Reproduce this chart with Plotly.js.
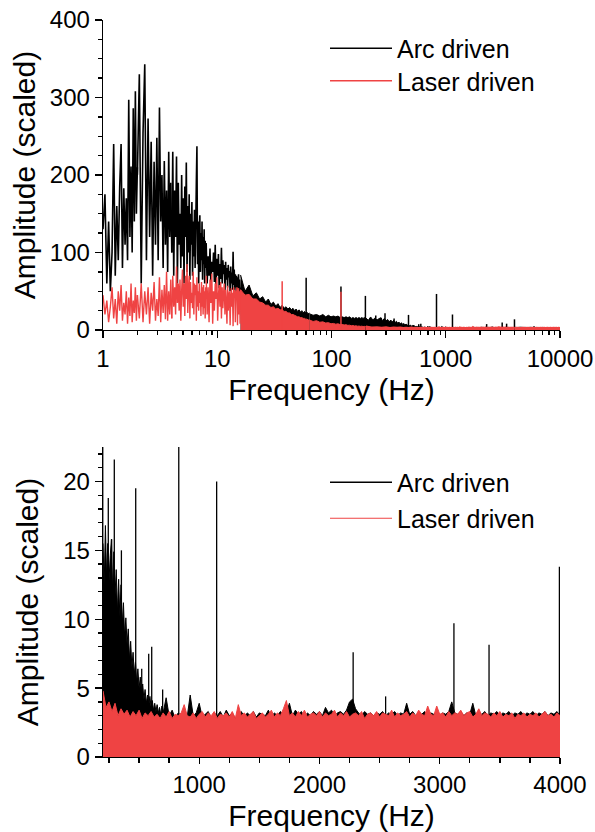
<!DOCTYPE html>
<html><head><meta charset="utf-8">
<script src="https://cdn.plot.ly/plotly-3.0.1.min.js"></script>
<style>html,body{margin:0;padding:0;background:#fff}#chart{width:595px;height:832px}</style>
</head><body><div id="chart"></div>
<script>
// ---------------- data ----------------
const seriesNames = ['Arc driven', 'Laser driven'];
const freqTicks = [1, 10, 100, 1000, 10000];
const freqTickText = ['1', '10', '100', '1000', '10000'];

// low-frequency segments of the spectra (start Hz, step Hz)
const lowSegStart = [1, 2, 4, 8, 16, 64];
const lowSegStep = [0.04, 0.08, 0.08, 0.16, 1.5, 5];

const arcLow1 = [130,175,60,140,50,100,240,70,160,90,185,240,80,183,110,170,90,297,120,211,100,286,140,308,150,210];
const arcLow2 = [200,330,60,254,343,90,273,120,243,70,217,110,248,90,287,140,200,80,218,110,180,75,230,120,190,100];
const arcLow3 = [100,230,70,180,120,224,60,190,110,150,80,200,95,170,60,185,120,216,75,160,
  100,175,65,150,110,165,70,140,95,155,80,130,190,237,85,140,60,130,148,75,
  125,90,140,65,120,85,130,60,115,80,112];
const arcLow4 = [112,60,95,70,105,55,88,75,100,62,110,58,92,70,98,54,85,66,106,60,
  90,72,84,50,88,65,80,55,84,68,76,50,82,60,74,52,101,58,78,48,
  72,55,70,45,68,52,72,47,65,50,55];
const arcLow5 = [71,50,58,44,48,40,43,36,40,33,36,31,34,29,32,28,30,27,29,26,28,25,27,24,26,23,25,22,24,22,23,21,22];
const arcLow6 = [21,19,20,18,20,17,19,17,18,17,18,16,17,16,17,16,17,15,16,15,16,15,16,15,16,15,16,15];

const laserLow1 = [45,20,38,10,30,55,15,40,8,50,25,58,12,35,20,50,8,42,18,60,10,38,22,55,12,45];
const laserLow2 = [45,15,60,10,50,20,55,8,48,25,62,12,40,18,68,10,52,22,58,14,75,12,50,20,65,15];
const laserLow3 = [15,70,30,55,20,82,35,60,25,65,12,50,78,30,60,18,70,40,85,22,
  55,70,15,62,35,48,28,75,20,60,45,58,12,68,30,50,25,60,35,48,
  18,62,30,55,20,58,28,50,15,55,40];
const laserLow4 = [70,20,55,10,65,35,73,8,50,25,60,40,68,12,45,58,30,62,15,55,
  28,48,60,20,52,35,8,57,25,45,50,6,40,54,30,48,5,55,45,52,
  10,50,42,55,6,48,54,20,50,8,52];
const laserLow5 = [52,45,46,40,40,36,35,32,32,29,30,27,28,26,26,24,24,22,22,20,20,19,18,17,17,16,16,15,15,14,14,13,13];
const laserLow6 = [13,11,12,10,10.5,9,9.5,8,8.5,7.5,8,7,7.2,6.5,6.8,6,6.2,5.5,5.8,5.2,5.4,4.9,5.1,4.7,4.9,4.5,4.7,4.4];

// arc driven, 200-700 Hz (step 10 Hz)
const arcMidStart = 200, arcMidStep = 10;
const arcMid = [15.5,12.5,16.8,13,15.5,12.8,14.6,15.8,12,14.9,
  11.8,13.6,10.5,12.9,10.2,12.5,9.6,11.2,8.7,10.1,
  8.2,9.3,7.1,8.4,6.5,7.6,6.0,6.9,5.4,6.4,
  5.0,5.8,4.6,5.3,4.2,4.9,3.9,4.5,3.7,4.4,
  3.6,4.1,3.4,3.9,3.3,3.8,3.2,3.6,3.1,3.7,3.2];

// arc driven, 700-4000 Hz (step 25 Hz)
const arcHighStart = 700, arcHighStep = 25;
const arcHigh = [3.2,
  4.3,3.0,3.4,2.8,3.2,3.0,3.3,2.9,4.5,3.0,
  3.2,3.9,2.9,3.1,3.3,2.8,3.2,3.0,3.3,2.9,
  3.4,3.0,3.2,2.8,3.1,3.3,2.9,3.2,3.0,3.3,
  2.9,3.2,3.1,3.0,3.4,2.9,3.2,3.0,3.3,3.1,
  3.2,3.9,3.0,3.4,3.1,3.3,2.9,3.2,3.0,3.3,
  3.1,3.3,3.0,3.6,3.2,3.4,3.0,3.2,3.3,3.1,
  3.4,4.0,4.2,3.5,3.2,3.0,3.3,3.1,3.2,3.0,
  3.2,3.1,3.3,3.0,3.2,3.1,3.3,3.0,3.2,3.1,
  3.9,3.1,3.3,3.0,3.2,3.1,3.3,3.0,3.2,3.1,
  3.3,3.0,3.2,3.1,3.3,4.0,3.2,3.1,3.3,3.0,
  3.2,3.1,3.9,3.0,3.2,3.1,3.3,3.0,3.2,3.1,
  3.3,3.0,3.2,3.1,3.3,3.0,3.2,3.1,3.3,3.0,
  3.2,3.1,3.3,3.0,3.2,3.1,3.3,3.0,3.2,3.1,
  3.3,3.0];

// laser driven, 200-4000 Hz (step 25 Hz)
const laserHighStart = 200, laserHighStep = 25;
const laserHigh = [4.8,3.6,4.0,3.3,3.9,3.0,3.5,3.1,3.4,2.9,
  3.3,3.0,3.4,2.8,3.2,3.0,3.3,2.9,3.1,2.8,
  3.2,2.9,3.3,2.8,3.1,3.0,3.2,3.8,3.0,2.9,
  3.2,2.8,3.1,3.3,2.9,3.2,3.0,3.3,2.8,3.1,
  3.0,3.2,2.9,3.3,2.8,3.8,3.0,3.2,2.9,3.1,
  3.3,2.8,3.0,3.2,2.9,3.1,3.4,2.9,3.2,3.0,
  3.5,4.1,3.0,3.2,2.9,3.3,3.0,3.4,2.9,3.1,
  3.2,3.0,3.3,2.9,3.2,3.0,3.1,3.4,2.9,3.2,
  3.0,3.3,2.9,3.1,3.2,3.0,3.3,2.8,3.1,3.2,
  3.0,3.3,2.9,3.2,3.1,3.0,3.4,2.9,3.2,3.0,
  3.1,3.3,2.9,3.2,3.0,3.4,3.1,3.0,3.7,3.1,
  3.0,3.7,3.1,3.2,2.9,3.3,3.0,3.2,3.1,3.4,
  3.0,3.2,3.3,2.9,3.1,3.5,3.0,3.2,3.1,2.9,
  3.2,3.0,3.3,2.9,3.1,3.0,3.2,2.8,3.1,3.0,
  3.2,2.9,3.1,3.0,3.2,2.9,3.1,3.3,3.0,3.1,
  2.9,3.2,3.0];

// 4000-10000 Hz (step 250 Hz)
const tailStart = 4000, tailStep = 250;
const arcTail = [3.5,3.2,3.6,3.3,3.4,3.1,3.5,3.2,3.4,3.0,3.3,3.1,3.4,3.0,3.2,3.1,3.3,3.0,3.2,3.1,3.3,3.0,3.2,3.1,3.2];
const laserTail = [3.0,3.2,2.9,3.1,3.0,3.3,2.9,3.1,3.0,3.2,2.8,3.1,3.0,3.2,2.9,3.1,3.0,3.1,2.9,3.2,3.0,3.1,2.9,3.1,3.0];

// narrow spectral lines
const arcSpikeFreq = [60,121,198,244,272,294,353,472,522,580,605,696,830,1145,2280,2550,3118,3410,3995,5920];
const arcSpikeAmp  = [67.5,56,44,18.8,15.8,21.6,15.0,19.5,6.4,7.5,8.0,4.9,46.5,20.0,7.6,4.4,9.7,8.15,13.8,5.0];
const laserSpikeFreq = [37,121];
const laserSpikeAmp  = [63,49.5];

// ---------------- styles ----------------
const FONT = 'Liberation Sans, Arial, sans-serif';
const BLACK = '#000000', RED = '#ef4343';

function seg(y, x0, dx, color, fill, xa, ya, width) {
  return {type:'scatter', mode:'lines', y:y, x0:x0, dx:dx, xaxis:xa, yaxis:ya,
    line:{color:color, width:width, simplify:false},
    fill: fill ? 'tozeroy' : 'none', fillcolor: color,
    showlegend:false, hoverinfo:'skip'};
}
function spikes(freq, amp, color, xa, ya, width) {
  const x = [], y = [];
  freq.forEach((f, i) => { x.push(f, f, null); y.push(0, amp[i], null); });
  return {type:'scatter', mode:'lines', x:x, y:y, xaxis:xa, yaxis:ya,
    line:{color:color, width:width}, showlegend:false, hoverinfo:'skip'};
}
function legendOf(t, name, legend) {
  t.name = name; t.legend = legend; t.showlegend = true; return t;
}

const arcLows = [arcLow1, arcLow2, arcLow3, arcLow4, arcLow5, arcLow6];
const laserLows = [laserLow1, laserLow2, laserLow3, laserLow4, laserLow5, laserLow6];

const traces = [];
// ---- top plot (log frequency) ----
arcLows.forEach((y, i) => {
  const t = seg(y, lowSegStart[i], lowSegStep[i], BLACK, i >= 4, 'x', 'y', i >= 4 ? 1 : 1.6);
  if (i === 0) legendOf(t, seriesNames[0], 'legend');
  traces.push(t);
});
traces.push(seg(arcMid, arcMidStart, arcMidStep, BLACK, true, 'x', 'y', 1));
traces.push(seg(arcHigh, arcHighStart, arcHighStep, BLACK, true, 'x', 'y', 1));
traces.push(seg(arcTail, tailStart, tailStep, BLACK, true, 'x', 'y', 1));
traces.push(spikes(arcSpikeFreq, arcSpikeAmp, BLACK, 'x', 'y', 1.5));
laserLows.forEach((y, i) => {
  const t = seg(y, lowSegStart[i], lowSegStep[i], RED, i >= 4, 'x', 'y', i >= 4 ? 1 : 1.4);
  if (i === 0) legendOf(t, seriesNames[1], 'legend3');
  traces.push(t);
});
traces.push(seg(laserHigh, laserHighStart, laserHighStep, RED, true, 'x', 'y', 1.5));
traces.push(seg(laserTail, tailStart, tailStep, RED, true, 'x', 'y', 1.5));
traces.push(spikes(laserSpikeFreq, laserSpikeAmp, RED, 'x', 'y', 1.5));

// ---- bottom plot (linear frequency) ----
traces.push(seg(arcMid, arcMidStart, arcMidStep, BLACK, true, 'x2', 'y2', 1));
traces.push(seg(arcHigh, arcHighStart, arcHighStep, BLACK, true, 'x2', 'y2', 1));
traces.push(legendOf(spikes(arcSpikeFreq, arcSpikeAmp, BLACK, 'x2', 'y2', 1.3), seriesNames[0], 'legend2'));
traces.push(seg(laserHigh, laserHighStart, laserHighStep, RED, true, 'x2', 'y2', 1));
traces.push(legendOf(spikes(laserSpikeFreq, laserSpikeAmp, RED, 'x2', 'y2', 1.1), seriesNames[1], 'legend4'));

const minorLog = [];
[1, 10, 100, 1000].forEach(d => { for (let m = 2; m <= 9; m++) minorLog.push(d * m); });

const tickFont = {family: FONT, size: 24, color: '#000'};
const titleFont = {family: FONT, size: 30, color: '#000'};
const legFont = {family: FONT, size: 25, color: '#000'};
const base = {showline:true, linecolor:'#000', linewidth:1.3, ticks:'outside', tickcolor:'#000',
  tickwidth:1.3, ticklen:7, showgrid:false, zeroline:false, tickfont:tickFont, automargin:false};
const XD = [103/595, 560/595];
const YTOP = [1 - 330/832, 1 - 20/832];
const YBOT = [1 - 757/832, 1 - 447/832];
function leg(topPx) {
  return {x:325/595, xanchor:'left', y:1 - topPx/832, yanchor:'top', bgcolor:'rgba(0,0,0,0)',
    font:legFont, itemwidth:62, tracegroupgap:0};
}

const layout = {
  width:595, height:832, margin:{l:0, r:0, t:0, b:0},
  paper_bgcolor:'#fff', plot_bgcolor:'#fff',
  font:{family:FONT, color:'#000'},
  xaxis: Object.assign({}, base, {type:'log', range:[0, 4], domain:XD, anchor:'y',
    tickmode:'array', tickvals:freqTicks, ticktext:freqTickText,
    minor:{tickmode:'array', tickvals:minorLog, ticks:'outside', ticklen:4, tickwidth:1.3, tickcolor:'#000'},
    title:{text:'Frequency (Hz)', font:titleFont, standoff:8}}),
  xaxis3: Object.assign({}, base, {type:'log', range:[0, 4], overlaying:'x', side:'top', anchor:'y',
    ticks:'inside', showticklabels:false, tickmode:'array', tickvals:freqTicks,
    minor:{tickmode:'array', tickvals:minorLog, ticks:'inside', ticklen:4, tickwidth:1.3, tickcolor:'#000'}}),
  yaxis: Object.assign({}, base, {range:[0, 400], domain:YTOP, anchor:'x', dtick:100, tick0:0,
    minor:{dtick:25, tick0:0, ticks:'outside', ticklen:4, tickwidth:1.3, tickcolor:'#000'},
    title:{text:'Amplitude (scaled)', font:titleFont, standoff:5}}),
  yaxis3: Object.assign({}, base, {range:[0, 400], overlaying:'y', side:'right', anchor:'x',
    ticks:'inside', showticklabels:false, dtick:100, tick0:0,
    minor:{dtick:25, tick0:0, ticks:'inside', ticklen:4, tickwidth:1.3, tickcolor:'#000'}}),
  xaxis2: Object.assign({}, base, {range:[200, 4000], domain:XD, anchor:'y2', dtick:1000, tick0:0, ticklen:6,
    minor:{dtick:250, tick0:0, ticks:'outside', ticklen:5, tickwidth:1.3, tickcolor:'#000'},
    title:{text:'Frequency (Hz)', font:titleFont, standoff:21}}),
  xaxis4: Object.assign({}, base, {range:[200, 4000], overlaying:'x2', side:'top', anchor:'y2',
    ticks:'inside', showticklabels:false, dtick:1000, tick0:0, ticklen:6,
    minor:{dtick:250, tick0:0, ticks:'inside', ticklen:4, tickwidth:1.3, tickcolor:'#000'}}),
  yaxis2: Object.assign({}, base, {range:[0, 22.5], domain:YBOT, anchor:'x2', dtick:5, tick0:0,
    minor:{dtick:1, tick0:0, ticks:'outside', ticklen:4, tickwidth:1.3, tickcolor:'#000'},
    title:{text:'Amplitude (scaled)', font:titleFont, standoff:15}}),
  yaxis4: Object.assign({}, base, {range:[0, 22.5], overlaying:'y2', side:'right', anchor:'x2',
    ticks:'inside', showticklabels:false, dtick:5, tick0:0,
    minor:{dtick:1, tick0:0, ticks:'inside', ticklen:4, tickwidth:1.3, tickcolor:'#000'}}),
  legend: leg(25.5),
  legend3: leg(58),
  legend2: leg(459.5),
  legend4: leg(495.5),
  showlegend:true
};

Plotly.newPlot('chart', traces, layout, {staticPlot:true, displayModeBar:false});
</script>
</body></html>
